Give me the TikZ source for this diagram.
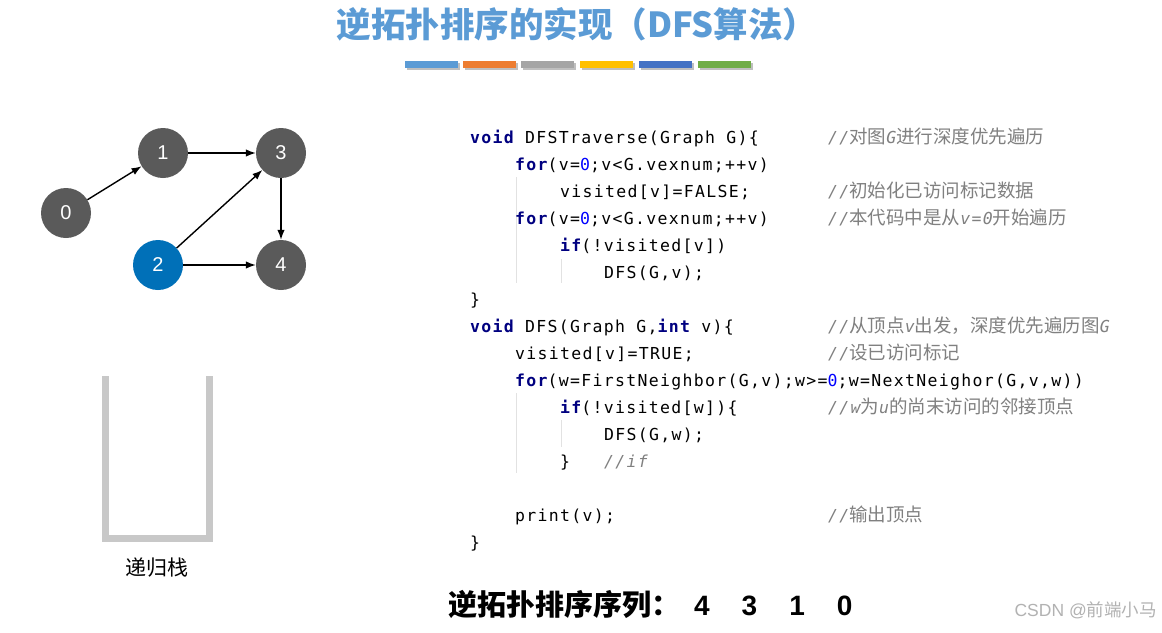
\documentclass[tikz,border=0pt]{standalone}
\usepackage{fontspec}
\setmainfont{Liberation Sans}
\newfontfamily\cjk{Noto Sans CJK SC}
\newfontfamily\codefont{DejaVu Sans Mono}[LetterSpace=8]
\usetikzlibrary{arrows.meta}
\definecolor{titleblue}{HTML}{5B9BD5}
\definecolor{barA}{HTML}{5B9BD5}
\definecolor{barB}{HTML}{ED7D31}
\definecolor{barC}{HTML}{A5A5A5}
\definecolor{barD}{HTML}{FFC000}
\definecolor{barE}{HTML}{4472C4}
\definecolor{barF}{HTML}{70AD47}
\definecolor{vgray}{HTML}{5A5A5A}
\definecolor{vblue}{HTML}{0070B8}
\definecolor{stackc}{HTML}{C8C8C8}
\definecolor{kwc}{HTML}{000080}
\definecolor{numc}{HTML}{0000FF}
\definecolor{cmc}{HTML}{808080}
\definecolor{guidec}{HTML}{E2E2E2}
\newcommand{\kw}[1]{{\bfseries\color{kwc}#1}}
\newcommand{\nm}[1]{{\color{numc}#1}}
\newcommand{\cz}[1]{{\cjk\fontsize{18.5}{18.5}\selectfont #1}}
\tikzset{
  vtx/.style={circle, fill=vgray, minimum size=50pt, inner sep=0pt, text=white, font=\fontsize{20}{20}\selectfont},
  edge/.style={line width=1.4pt, -{Latex[length=10pt,width=7.5pt]}},
  codeline/.style={anchor=base west, inner sep=0pt, font=\codefont\fontsize{16.5}{16.5}\selectfont},
  cmline/.style={anchor=base west, inner sep=0pt, text=cmc, font=\codefont\fontsize{16.5}{16.5}\selectfont\itshape},
  guide/.style={draw=guidec, line width=0.8pt},
  bar/.style={inner sep=0pt, minimum width=53pt, minimum height=7pt, anchor=north west}
}
\begin{document}
\begin{tikzpicture}[x=1pt,y=-1pt]
\path[fill=white,use as bounding box] (0,0) rectangle (1162,632);

% title
\node[font=\cjk\bfseries\fontsize{34.5}{34.5}\selectfont, text=titleblue] (title) at (577,24) {逆拓扑排序的实现（DFS算法）};

% colour bars
\foreach \x/\c [count=\i] in {405/barA,463/barB,521/barC,580/barD,639/barE,698/barF}{
  \fill[black!25] (\x+1.5,62.5) rectangle (\x+54.5,69.5);
  \node[bar, fill=\c] (bar\i) at (\x,61) {};
}

% graph
\node[vtx] (n0) at (66,213) {0};
\node[vtx] (n1) at (163,153) {1};
\node[vtx] (n3) at (281,153) {3};
\node[vtx, fill=vblue] (n2) at (158,265) {2};
\node[vtx] (n4) at (281,265) {4};
\draw[edge] (n0) -- (n1);
\draw[edge] (n1) -- (n3);
\draw[edge] (n2) -- (n3);
\draw[edge] (n2) -- (n4);
\draw[edge] (n3) -- (n4);

% stack
\draw[stackc, line width=7pt] (105.5,376) -- (105.5,538) -- (209.5,538) -- (209.5,376);
\node[font=\cjk\fontsize{21}{21}\selectfont] (stacklbl) at (157,568) {递归栈};

% indent guides
\draw[guide] (516.5,177) -- (516.5,283);
\draw[guide] (561.5,259) -- (561.5,283);
\draw[guide] (516.5,393) -- (516.5,473);
\draw[guide] (561.5,420) -- (561.5,447);

% code
\node[codeline] (c1) at (470,143) {\kw{void} DFSTraverse(Graph G)\{};
\node[codeline] (c2) at (515,170) {\kw{for}(v=\nm{0};v<G.vexnum;++v)};
\node[codeline] (c3) at (560,197) {visited[v]=FALSE;};
\node[codeline] (c4) at (515,224) {\kw{for}(v=\nm{0};v<G.vexnum;++v)};
\node[codeline] (c5) at (560,251) {\kw{if}(!visited[v])};
\node[codeline] (c6) at (604,278) {DFS(G,v);};
\node[codeline] (c7) at (470,305) {\}};
\node[codeline] (c8) at (470,332) {\kw{void} DFS(Graph G,\kw{int} v)\{};
\node[codeline] (c9) at (515,359) {visited[v]=TRUE;};
\node[codeline] (c10) at (515,386) {\kw{for}(w=FirstNeighbor(G,v);w>=\nm{0};w=NextNeighor(G,v,w))};
\node[codeline] (c11) at (560,413) {\kw{if}(!visited[w])\{};
\node[codeline] (c12) at (604,440) {DFS(G,w);};
\node[codeline] (c13) at (560,467) {\}};
\node[cmline] (c13b) at (604,467) {//if};
\node[codeline] (c15) at (515,521) {print(v);};
\node[codeline] (c16) at (470,548) {\}};

% comments
\node[cmline] (m1) at (828,143) {//\cz{对图}G\cz{进行深度优先遍历}};
\node[cmline] (m3) at (828,197) {//\cz{初始化已访问标记数据}};
\node[cmline] (m4) at (828,224) {//\cz{本代码中是从}v=0\cz{开始遍历}};
\node[cmline] (m8) at (828,332) {//\cz{从顶点}v\cz{出发，深度优先遍历图}G};
\node[cmline] (m9) at (828,359) {//\cz{设已访问标记}};
\node[cmline] (m11) at (828,413) {//w\cz{为}u\cz{的尚末访问的邻接顶点}};
\node[cmline] (m15) at (828,521) {//\cz{输出顶点}};

% result
\node[anchor=west, inner sep=0pt, font=\fontsize{28}{28}\selectfont\bfseries] (result) at (448,604)
  {{\cjk\fontsize{29}{29}\selectfont 逆拓扑排序序列：}\hspace{14pt}4\hspace{32pt}3\hspace{32pt}1\hspace{32pt}0};

% watermark
\node[anchor=east, inner sep=0pt, text=black!30, font=\fontsize{17.5}{17.5}\selectfont] (wm) at (1157,610) {CSDN @{\cjk 前端小马}};
\end{tikzpicture}
\end{document}
